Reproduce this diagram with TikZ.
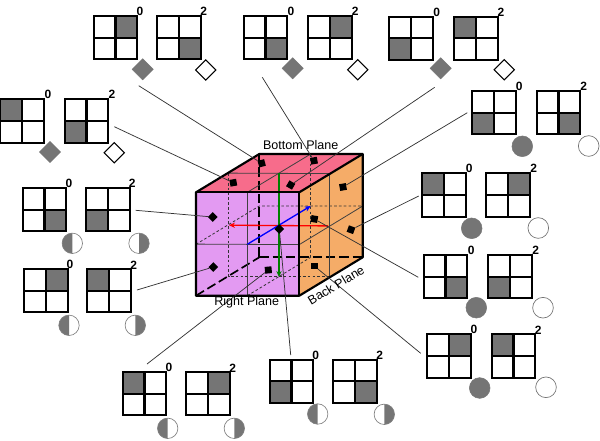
\documentclass[tikz,border=0pt]{standalone}
\usepackage{fontspec}
\setmainfont{Liberation Sans}
\usetikzlibrary{arrows.meta,shapes.geometric}
\definecolor{greyfill}{HTML}{757575}
\definecolor{pinkf}{HTML}{F76C8B}
\definecolor{purpf}{HTML}{E39AF2}
\definecolor{oranf}{HTML}{F5AC68}
\definecolor{greenl}{HTML}{008000}
\definecolor{redl}{HTML}{FF0000}
\definecolor{bluel}{HTML}{0000FF}
\tikzset{
 gridline/.style={draw=black,line width=1.6pt},
 edge/.style={draw=black,line width=1.6pt,line join=round},
 thin grid/.style={draw=black!75,line width=0.6pt},
 dash grid/.style={draw=black!80,line width=0.6pt,dash pattern=on 2pt off 1.6pt},
 hidden/.style={draw=black,line width=1.25pt,dash pattern=on 7pt off 3pt},
 leader/.style={draw=black!80,line width=0.55pt},
 digit/.style={font=\bfseries\fontsize{9}{10}\selectfont,inner sep=0pt},
 planelabel/.style={font=\fontsize{9.4}{11}\selectfont,inner sep=0pt},
 marker/.style={fill=black,draw=none,minimum size=5.1pt,inner sep=0pt,rectangle},
 gdiamond/.style={fill=greyfill,draw=greyfill,line width=0.4pt,diamond,minimum size=16pt,inner sep=0pt,aspect=1},
 wdiamond/.style={fill=white,draw=black,line width=0.8pt,diamond,minimum size=15.5pt,inner sep=0pt,aspect=1},
 gcircle/.style={fill=greyfill,draw=greyfill,line width=0.4pt,circle,minimum size=15.5pt,inner sep=0pt},
 wcircle/.style={fill=white,draw=black!55,line width=0.5pt,circle,minimum size=15.5pt,inner sep=0pt},
 axisline/.style={-{Stealth[length=4.5pt,width=4pt]},line width=1pt},
}
% #1 x, #2 y of top left; #3 column shaded, #4 row shaded; #5 digit, #6 #7 digit centre
\newcommand{\panel}[7]{%
  \fill[greyfill] ({#1+21.85*#3},{#2+21.65*#4}) rectangle ++(21.85,21.65);
  \draw[gridline] (#1,#2) rectangle ++(43.7,43.3);
  \draw[gridline] ({#1+21.85},#2) -- ++(0,43.3);
  \draw[gridline] (#1,{#2+21.65}) -- ++(43.7,0);
  \node[digit] at (#6,#7) {#5};
}
% half filled disc: #1 x, #2 y, #3 0 = left half grey, 1 = right half grey
\newcommand{\halfdisc}[3]{%
  \fill[white] (#1,#2) circle (10.2);
  \ifnum#3=0
    \fill[greyfill] (#1,{#2-10.2}) arc (-90:-270:10.2) -- cycle;
  \else
    \fill[greyfill] (#1,{#2+10.2}) arc (90:-90:10.2) -- cycle;
  \fi
  \draw[draw=black!50,line width=0.5pt] (#1,#2) circle (10.2);
}
\begin{document}
\begin{tikzpicture}[x=0.75pt,y=-0.75pt]
\useasboundingbox (0,0) rectangle (600,440);
% cube faces
\fill[pinkf] (196,192.3) -- (259.3,154) -- (362.7,154) -- (299.3,192.3) -- cycle;
\fill[purpf] (196,192.3) rectangle (299.3,295.7);
\fill[oranf] (299.3,192.3) -- (362.7,154) -- (362.7,257.3) -- (299.3,295.7) -- cycle;
% hidden edges
\draw[hidden] (259.3,154) -- (259.3,257.3);
\draw[hidden] (259.3,257.3) -- (362.7,257.3);
\draw[hidden] (196,295.7) -- (259.3,257.3);
% dashed inner grid
\draw[dash grid] (228.7,173.3) -- (228.7,276.7) -- (329.3,276.7);
\draw[dash grid] (310.7,154) -- (310.7,257.3);
\draw[dash grid] (196,244.3) -- (259.3,206) -- (362.7,206);
\draw[dash grid] (247.3,295.7) -- (310.7,257.3);
% visible inner grid
\draw[thin grid] (228.7,173.1) -- (329.3,173.6);
\draw[thin grid] (247.3,192.3) -- (310.7,154);
\draw[thin grid] (247.3,192.3) -- (247.3,295.7);
\draw[thin grid] (196,244.1) -- (299.3,244.6) -- (362.7,206);
\draw[thin grid] (329.3,173.3) -- (329.3,276.7);
% axes
\coordinate (rs) at (328,225.9);
\coordinate (re) at (229,225.2);
\coordinate (bs) at (247.3,244.3);
\coordinate (be) at (310.7,206);
\coordinate (gs) at (279,173.3);
\coordinate (ge) at (279,277);
\draw[axisline,color=redl] (rs) -- (re);
\draw[axisline,color=bluel] (bs) -- (be);
\draw[axisline,color=greenl] (gs) -- (ge);
% cube outline
\draw[edge] (196,192.3) -- (259.3,154) -- (362.7,154) -- (362.7,257.3) -- (299.3,295.7) -- (196,295.7) -- cycle;
\draw[edge] (196,192.3) -- (299.3,192.3) -- (299.3,295.7);
\draw[edge] (299.3,192.3) -- (362.7,154);
% markers
\node[marker,rotate=15] (m1) at (261.7,163.3) {};
\node[marker,rotate=10] (m2) at (314,160.7) {};
\node[marker,rotate=10] (m3) at (233.3,182.7) {};
\node[marker,rotate=-30] (m4) at (290.7,185) {};
\node[marker,rotate=10] (m5) at (343,187) {};
\node[marker,rotate=-20] (m6) at (351,229.7) {};
\node[marker,rotate=-10] (m7) at (314.3,219) {};
\node[marker] (m8) at (314.3,266) {};
\node[marker,rotate=45] (m9) at (279.3,229) {};
\node[marker,rotate=5] (m10) at (268.3,270) {};
\node[marker,rotate=45] (m11) at (213.3,267) {};
\node[marker,rotate=45] (m12) at (212.7,217) {};
% free ends of the leaders
\coordinate (e1) at (138.7,85.7);
\coordinate (e2) at (262.3,77.3);
\coordinate (e3) at (114.3,126.7);
\coordinate (e4) at (434.7,87.3);
\coordinate (e5) at (467.3,112.7);
\coordinate (e6) at (418.7,196);
\coordinate (e7) at (418.3,277.3);
\coordinate (e8) at (420.7,353.3);
\coordinate (e9) at (290.7,355);
\coordinate (e10) at (147,364);
\coordinate (e11) at (137,290);
\coordinate (e12) at (135.7,210.3);
\draw[leader] (e1) -- (m1);
\draw[leader] (e2) -- (m2);
\draw[leader] (e3) -- (m3);
\draw[leader] (e4) -- (m4);
\draw[leader] (e5) -- (m5);
\draw[leader] (e6) -- (m6);
\draw[leader] (e7) -- (m7);
\draw[leader] (e8) -- (m8);
\draw[leader] (e9) -- (m9);
\draw[leader] (e10) -- (m10);
\draw[leader] (e11) -- (m11);
\draw[leader] (e12) -- (m12);
% plane labels
\node[planelabel] (lb) at (300.7,145.3) {Bottom Plane};
\node[planelabel] (lr) at (246.7,302.7) {Right Plane};
\node[planelabel,rotate=31] (lk) at (336,285) {Back Plane};
% panels
\panel{93.7}{16}{1}{0}{0}{140}{11}
\panel{157}{16}{1}{1}{2}{203.7}{11}
\panel{243.7}{16}{1}{1}{0}{291}{11}
\panel{308}{16}{1}{0}{2}{355.3}{11}
\panel{389.3}{16.7}{0}{1}{0}{436.7}{12}
\panel{454.3}{16.7}{0}{0}{2}{501}{12}
\panel{472}{91}{0}{1}{0}{519.3}{86}
\panel{536.7}{91}{1}{1}{2}{583.7}{86.7}
\panel{0.4}{99.3}{0}{0}{0}{48}{94.7}
\panel{64.7}{99.3}{0}{1}{2}{112}{94.7}
\panel{22.7}{188}{1}{1}{0}{69}{183.3}
\panel{86}{188}{0}{1}{2}{132.3}{183.3}
\panel{24}{269}{1}{0}{0}{70}{264.3}
\panel{87}{269}{0}{0}{2}{133.7}{265}
\panel{122.7}{372}{0}{0}{0}{169}{367.3}
\panel{186.3}{372}{1}{0}{2}{232.7}{368}
\panel{269.7}{359.7}{0}{1}{0}{315.7}{355}
\panel{333.3}{359.7}{1}{1}{2}{379.7}{355}
\panel{422}{173.3}{0}{0}{0}{469.3}{168.7}
\panel{486.3}{173.3}{1}{0}{2}{533.7}{168.7}
\panel{423.7}{255}{1}{1}{0}{471.3}{250.3}
\panel{488.3}{255}{0}{1}{2}{535.7}{250.3}
\panel{427}{334.3}{1}{0}{0}{474}{329.7}
\panel{491.7}{334.3}{0}{0}{2}{538.3}{330}
% diamonds
\node[gdiamond] (d1) at (142.7,69.3) {};
\node[wdiamond] (d2) at (205.7,70) {};
\node[gdiamond] (d3) at (292.7,68.3) {};
\node[wdiamond] (d4) at (357.7,69.7) {};
\node[gdiamond] (d5) at (440.7,68.3) {};
\node[wdiamond] (d6) at (504.3,69.7) {};
\node[gdiamond] (d7) at (50,152) {};
\node[wdiamond] (d8) at (114.3,152.7) {};
% circles
\node[gcircle] (c1) at (522.3,146.3) {};
\node[wcircle] (c2) at (588.7,146) {};
\node[gcircle] (c3) at (471.7,228.3) {};
\node[wcircle] (c4) at (538.3,228) {};
\node[gcircle] (c5) at (476.3,307.7) {};
\node[wcircle] (c6) at (543,307.7) {};
\node[gcircle] (c7) at (479.7,388) {};
\node[wcircle] (c8) at (546,387.3) {};
% half discs
\halfdisc{72.3}{243.3}{0}
\halfdisc{139}{243.3}{1}
\halfdisc{69}{325.3}{0}
\halfdisc{135.3}{325.3}{1}
\halfdisc{167.7}{428.3}{0}
\halfdisc{234.3}{428.3}{1}
\halfdisc{317.7}{414}{0}
\halfdisc{384.3}{414.3}{1}
\end{tikzpicture}
\end{document}
